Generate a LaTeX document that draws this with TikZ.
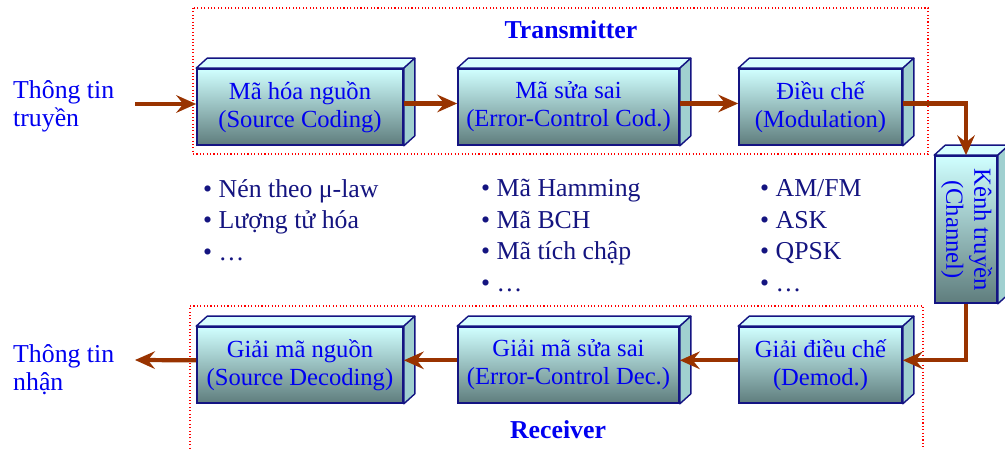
\documentclass[tikz,border=0pt]{standalone}
\usepackage{fontspec}
\setmainfont{Liberation Serif}
\usepackage{xcolor}
\usepackage{graphicx}
\usetikzlibrary{arrows.meta,calc}
\definecolor{boxtop}{RGB}{208,255,255}
\definecolor{boxbot}{RGB}{95,125,125}
\definecolor{boxlid}{RGB}{215,255,255}
\definecolor{boxside}{RGB}{160,208,208}
\definecolor{boxline}{RGB}{20,20,130}
\definecolor{boxtext}{RGB}{0,0,240}
\definecolor{listnavy}{RGB}{20,20,128}
\definecolor{flowbrown}{RGB}{153,51,0}
\begin{document}
\begin{tikzpicture}[x=0.03cm,y=0.03cm,
  block/.style={draw=boxline,line width=1.4pt,top color=boxtop,bottom color=boxbot,text=boxtext,align=center,font=\fontsize{21}{24}\selectfont,minimum height=2.28cm},
  lid/.style={draw=boxline,line width=1.2pt,line join=round,fill=boxlid},
  side/.style={draw=boxline,line width=1.2pt,line join=round,fill=boxside},
  flow/.style={draw=flowbrown,line width=3.6pt,-{Stealth[length=17pt,width=15pt,inset=6pt]}},
  frame/.style={draw=red,dotted,line width=0.9pt},
  items/.style={anchor=west,align=left,text=listnavy,font=\fontsize{22}{27}\selectfont},
  title/.style={text=boxtext,font=\fontsize{22}{26}\selectfont\bfseries},
  info/.style={anchor=west,align=left,text=boxtext,font=\fontsize{22}{24}\selectfont}]
\tikzstyle{every node}+=[inner sep=0pt]
\useasboundingbox (0,0) rectangle (1005,-450);
\draw [frame] (193,-8) rectangle (928,-154);
\draw [frame] (190,-452) |- (923,-306) -- (923,-452);
\node [title] (txtitle) at (571,-30) {Transmitter};
\node [title] (rxtitle) at (558,-430) {Receiver};
\node [block,minimum width=6.18cm] (src) at (300,-107) {Mã hóa nguồn\\(Source Coding)};
\node [block,minimum width=6.63cm] (ecc) at (568.5,-107) {Mã sửa sai\\(Error-Control Cod.)};
\node [block,minimum width=4.89cm] (mod) at (820.5,-107) {Điều chế\\(Modulation)};
\node [block,minimum width=1.86cm,minimum height=4.41cm] (chan) at (966,-229.5) {\rotatebox{-90}{\begin{tabular}{@{}c@{}}Kênh truyền\\(Channel)\end{tabular}}};
\node [block,minimum width=6.18cm] (sdec) at (300,-365) {Giải mã nguồn\\(Source Decoding)};
\node [block,minimum width=6.63cm] (edec) at (568.5,-365) {Giải mã sửa sai\\(Error-Control Dec.)};
\node [block,minimum width=4.89cm] (dem) at (820.5,-365) {Giải điều chế\\(Demod.)};
\foreach \b in {src,ecc,mod,chan,sdec,edec,dem} {
  \draw [lid] (\b.north west) -- ++(11,10) -- ($(\b.north east)+(11,10)$) -- (\b.north east) -- cycle;
  \draw [side] (\b.north east) -- ++(11,10) -- ($(\b.south east)+(11,10)$) -- (\b.south east) -- cycle;
}
\node [info] (txinfo) at (13,-106) {Thông tin\\truyền};
\node [info] (rxinfo) at (13,-370) {Thông tin\\nhận};
\coordinate (txin) at (135,-104);
\coordinate (rxout) at (135,-360);
\draw [flow] (txin) -- (txin -| src.west);
\draw [flow] ([yshift=3pt]src.east) -- ([yshift=3pt]ecc.west);
\draw [flow] ([yshift=3pt]ecc.east) -- ([yshift=3pt]mod.west);
\draw [flow] ([yshift=3pt]mod.east) -| (chan.north);
\draw [flow] (chan.south) |- ([yshift=4pt]dem.east);
\draw [flow] ([yshift=4pt]dem.west) -- ([yshift=4pt]edec.east);
\draw [flow] ([yshift=4pt]edec.west) -- ([yshift=4pt]sdec.east);
\draw [flow] ([yshift=4pt]sdec.west) -- (rxout);
\node [items] (srclist) at (203,-220) {• Nén theo μ-law\\• Lượng tử hóa\\• …};
\node [items] (ecclist) at (481,-235.5) {• Mã Hamming\\• Mã BCH\\• Mã tích chập\\• …};
\node [items] (modlist) at (760,-235.5) {• AM/FM\\• ASK\\• QPSK\\• …};
\end{tikzpicture}
\end{document}
